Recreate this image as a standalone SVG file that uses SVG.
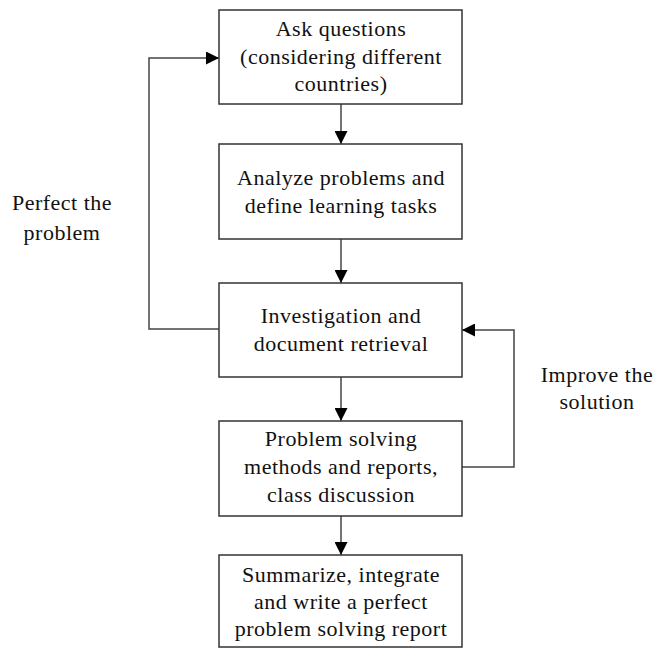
<svg xmlns="http://www.w3.org/2000/svg" width="655" height="648" viewBox="0 0 655 648">
<style>
.box{fill:#fff;stroke:#333;stroke-width:1.5}
.t{font-family:"Liberation Serif","Times New Roman",serif;font-size:22px;letter-spacing:0.5px;fill:#111;text-anchor:middle}
.c{fill:none;stroke:#444;stroke-width:1.5}
</style>
<defs>
<marker id="ah" markerWidth="13" markerHeight="13" viewBox="0 0 13 13" refX="13" refY="6.5" orient="auto" markerUnits="userSpaceOnUse">
<path d="M0,0 L13,6.5 L0,13 Z" fill="#000"/>
</marker>
</defs>
<rect width="655" height="648" fill="#fff"/>
<g id="connectors">
<line class="c" x1="341" y1="104" x2="341" y2="144" marker-end="url(#ah)"/>
<line class="c" x1="341" y1="239" x2="341" y2="283" marker-end="url(#ah)"/>
<line class="c" x1="341" y1="377" x2="341" y2="421" marker-end="url(#ah)"/>
<line class="c" x1="341" y1="516" x2="341" y2="555" marker-end="url(#ah)"/>
<polyline class="c" points="219,329 149,329 149,58 219,58" marker-end="url(#ah)"/>
<polyline class="c" points="462,467 514,467 514,330 462,330" marker-end="url(#ah)"/>
</g>
<g id="n1">
<rect class="box" x="219" y="10" width="243" height="94"/>
<text class="t" x="341" y="36">Ask questions</text>
<text class="t" x="341" y="64">(considering different</text>
<text class="t" x="341" y="91">countries)</text>
</g>
<g id="n2">
<rect class="box" x="219" y="144" width="243" height="95"/>
<text class="t" x="341" y="185">Analyze problems and</text>
<text class="t" x="341" y="213">define learning tasks</text>
</g>
<g id="n3">
<rect class="box" x="219" y="283" width="243" height="94"/>
<text class="t" x="341" y="323">Investigation and</text>
<text class="t" x="341" y="351">document retrieval</text>
</g>
<g id="n4">
<rect class="box" x="219" y="421" width="243" height="95"/>
<text class="t" x="341" y="446">Problem solving</text>
<text class="t" x="341" y="474">methods and reports,</text>
<text class="t" x="341" y="502">class discussion</text>
</g>
<g id="n5">
<rect class="box" x="219" y="555" width="243" height="92"/>
<text class="t" x="341" y="582">Summarize, integrate</text>
<text class="t" x="341" y="609">and write a perfect</text>
<text class="t" x="341" y="636">problem solving report</text>
</g>
<g id="label-left">
<text class="t" x="62" y="210">Perfect the</text>
<text class="t" x="62" y="240">problem</text>
</g>
<g id="label-right">
<text class="t" x="597" y="382">Improve the</text>
<text class="t" x="597" y="409">solution</text>
</g>
</svg>
